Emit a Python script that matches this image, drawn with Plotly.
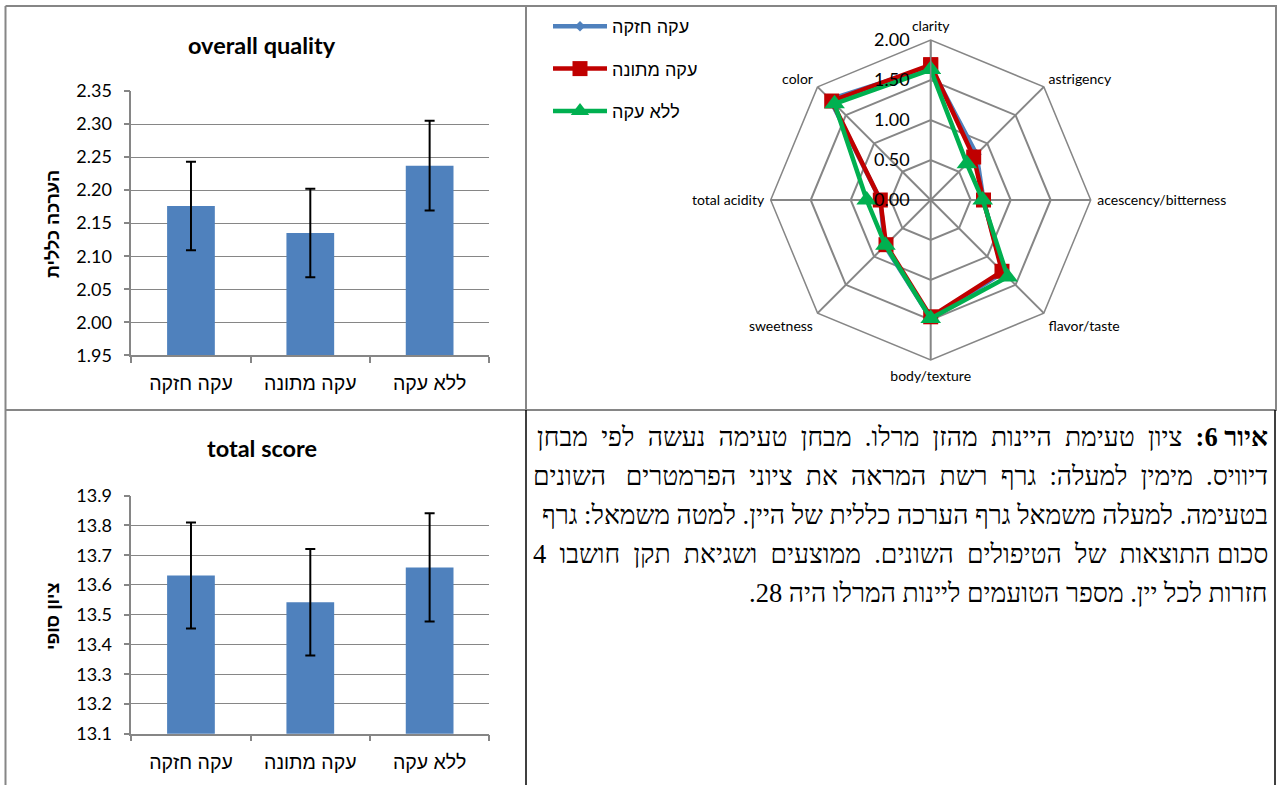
import plotly.graph_objects as go

W, H = 1277, 785

# ---------------- data ----------------
bar_categories = ["עקה חזקה", "עקה מתונה", "ללא עקה"]
overall_mean = [2.176, 2.135, 2.237]
overall_err = [0.067, 0.067, 0.068]
total_mean = [13.632, 13.542, 13.659]
total_err = [0.178, 0.179, 0.182]

radar_categories = ["clarity", "astrigency", "acescency/bitterness", "flavor/taste",
                    "body/texture", "sweetness", "total acidity", "color"]
series_names = ["עקה חזקה", "עקה מתונה", "ללא עקה"]
radar_strong = [1.66, 0.81, 0.66, 1.28, 1.48, 0.81, 0.63, 1.78]
radar_moderate = [1.69, 0.76, 0.66, 1.26, 1.46, 0.79, 0.63, 1.75]
radar_none = [1.63, 0.64, 0.65, 1.36, 1.48, 0.80, 0.80, 1.70]

caption_lines = [
    "<b>איור 6:</b> ציון טעימת היינות מהזן מרלו. מבחן טעימה נעשה לפי מבחן",
    "דיוויס. מימין למעלה: גרף רשת המראה את ציוני הפרמטרים השונים",
    "בטעימה. למעלה משמאל גרף הערכה כללית של היין. למטה משמאל: גרף",
    "סכום התוצאות של הטיפולים השונים. ממוצעים ושגיאת תקן חושבו 4",
    "חזרות לכל יין. מספר הטועמים ליינות המרלו היה 28.",
]
# extra non-breaking spaces per line to imitate the justified paragraph
caption_extra_spaces = [10, 10, 0, 8, 0]

BAR_BLUE = "#4f81bd"
GRID = "#868686"
NUM_FONT = "Lato"
HEB_FONT = "Liberation Sans"


def px(x):
    return x / W


def py(y):
    return 1 - y / H


def justify(line, extra):
    parts = line.split(" ")
    gaps = len(parts) - 1
    out = parts[0]
    for i, p in enumerate(parts[1:]):
        n = ((i + 1) * extra) // gaps - (i * extra) // gaps
        out += " " + "\u00A0" * n + p
    return out


fig = go.Figure()

# bar charts
for mean, err, xa, ya in [(overall_mean, overall_err, "x", "y"), (total_mean, total_err, "x2", "y2")]:
    fig.add_trace(go.Bar(
        x=bar_categories, y=mean, width=0.4, marker=dict(color=BAR_BLUE, line=dict(width=0)),
        error_y=dict(type="data", array=err, color="black", thickness=2, width=5),
        xaxis=xa, yaxis=ya, showlegend=False, hoverinfo="skip"))

# radar
radar_styles = [
    (radar_strong, "#4f81bd", "diamond", 8),
    (radar_moderate, "#c00000", "square", 15),
    (radar_none, "#00b050", "triangle-up", 18),
]
for name, (vals, col, sym, size) in zip(series_names, radar_styles):
    fig.add_trace(go.Scatterpolar(
        r=vals + vals[:1], theta=radar_categories + radar_categories[:1],
        mode="lines+markers", name=name,
        line=dict(color=col, width=4.5),
        marker=dict(symbol=sym, size=size, color=col),
        legendgroup=name))

axis_common = dict(showline=True, linecolor=GRID, linewidth=1.5, ticks="outside",
                   ticklen=6, tickcolor=GRID, tickwidth=1.5, automargin=False)
xdom = [px(131.3), px(489.3)]

fig.update_layout(
    width=W, height=H, autosize=False, margin=dict(l=0, r=0, t=0, b=0, pad=0, autoexpand=False),
    paper_bgcolor="white", plot_bgcolor="white",
    xaxis=dict(domain=xdom, anchor="y", tickson="boundaries", showgrid=False,
               tickfont=dict(family=HEB_FONT, size=19.5, color="black"), ticklabelstandoff=10,
               **axis_common),
    yaxis=dict(domain=[py(355.3), py(91)], anchor="x", range=[1.95, 2.35], dtick=0.05,
               tickformat=".2f", showgrid=True, gridcolor=GRID, gridwidth=1.2, zeroline=False,
               tickfont=dict(family=NUM_FONT, size=18, color="black"), ticklabelstandoff=8,
               **axis_common),
    xaxis2=dict(domain=xdom, anchor="y2", tickson="boundaries", showgrid=False,
                tickfont=dict(family=HEB_FONT, size=19.5, color="black"), ticklabelstandoff=10,
                **axis_common),
    yaxis2=dict(domain=[py(733.7), py(495.7)], anchor="x2", range=[13.1, 13.9], dtick=0.1,
                tickformat=".1f", showgrid=True, gridcolor=GRID, gridwidth=1.2, zeroline=False,
                tickfont=dict(family=NUM_FONT, size=18, color="black"), ticklabelstandoff=8,
                **axis_common),
    polar=dict(
        domain=dict(x=[px(930.7 - 160), px(930.7 + 160)], y=[py(360), py(40)]),
        bgcolor="rgba(0,0,0,0)", gridshape="linear",
        radialaxis=dict(range=[0, 2], dtick=0.5, tickformat=".2f", angle=90, tickangle=90,
                        side="counterclockwise", showline=True, linecolor=GRID, linewidth=1.5,
                        gridcolor=GRID, gridwidth=1.5, ticks="outside", ticklen=14,
                        tickcolor="rgba(0,0,0,0)",
                        tickfont=dict(family=NUM_FONT, size=18, color="black")),
        angularaxis=dict(direction="clockwise", rotation=90, showline=True, linecolor=GRID,
                         linewidth=1.5, gridcolor=GRID, gridwidth=1.5, ticks="outside",
                         ticklen=3, tickcolor="rgba(0,0,0,0)",
                         tickfont=dict(family=NUM_FONT, size=14, color="black")),
    ),
    legend=dict(x=px(548), y=py(8), xanchor="left", yanchor="top", bgcolor="rgba(0,0,0,0)",
                font=dict(family=HEB_FONT, size=18, color="black"), tracegroupgap=16,
                itemwidth=54),
)

annotations = [
    dict(text="<b>overall quality</b>", x=px(262), y=py(45), font=dict(family=NUM_FONT, size=23.5)),
    dict(text="<b>total score</b>", x=px(262), y=py(448), font=dict(family=NUM_FONT, size=23.5)),
    dict(text="<b>הערכה כללית</b>", x=px(53), y=py(224), textangle=-90,
         font=dict(family=HEB_FONT, size=18)),
    dict(text="<b>ציון סופי</b>", x=px(53), y=py(617), textangle=-90,
         font=dict(family=HEB_FONT, size=18)),
]
line_y0, line_dy = 437, 39
for i, (line, extra) in enumerate(zip(caption_lines, caption_extra_spaces)):
    annotations.append(dict(text="\u202B" + justify(line, extra) + "\u202C", x=px(1270),
                            y=py(line_y0 + i * line_dy), xanchor="right",
                            font=dict(family="Liberation Serif", size=26.5)))
for a in annotations:
    a.setdefault("xanchor", "center")
    a.update(xref="paper", yref="paper", yanchor="middle", showarrow=False)
    a["font"]["color"] = "black"
fig.update_layout(annotations=annotations)

# table borders
shapes = []
def seg(x0, y0, x1, y1, color=GRID, w=2):
    shapes.append(dict(type="line", xref="paper", yref="paper", x0=px(x0), y0=py(y0),
                       x1=px(x1), y1=py(y1), line=dict(color=color, width=w)))
seg(5.5, 6, 1277, 6)
seg(5.5, 6, 5.5, 785)
seg(5.5, 410, 1277, 410)
seg(526, 6, 526, 410)
seg(526, 410, 526, 785, "black", 1.5)
seg(1276, 6, 1276, 410)
seg(1275, 410, 1275, 785, "black", 1.5)
fig.update_layout(shapes=shapes)

fig.write_html("out.html", config={"displayModeBar": False},
               post_script="document.body.style.margin='0';")
